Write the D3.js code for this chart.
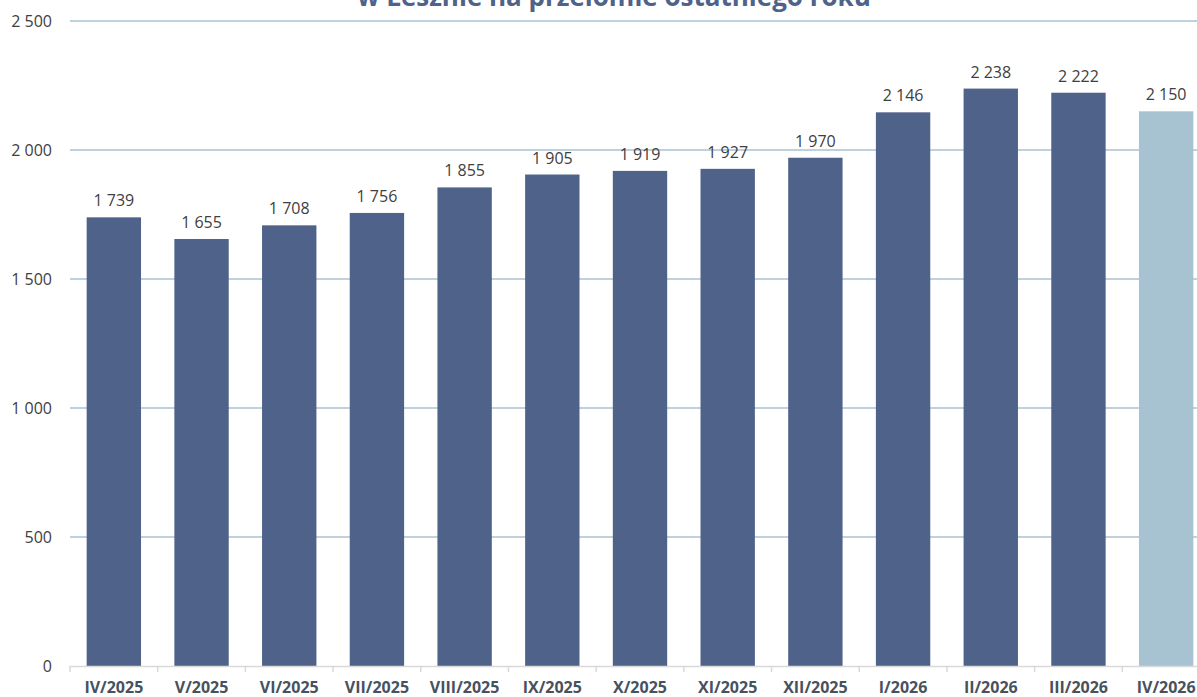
<!DOCTYPE html>
<html><head><meta charset="utf-8">
<script src="https://cdn.jsdelivr.net/npm/d3@7"></script>
<style>body{margin:0;background:#fff;overflow:hidden}svg{display:block;font-family:"Open Sans",sans-serif}</style>
</head><body>
<script>
const categories = ["IV/2025","V/2025","VI/2025","VII/2025","VIII/2025","IX/2025","X/2025","XI/2025","XII/2025","I/2026","II/2026","III/2026","IV/2026"];
const values = [1739,1655,1708,1756,1855,1905,1919,1927,1970,2146,2238,2222,2150];
const yTicks = [0,500,1000,1500,2000,2500];
const titleText = "w Lesznie na przełomie ostatniego roku";

const W = 1197, H = 697;
const svg = d3.select("body").append("svg").attr("width", W).attr("height", H);
const x = d3.scaleBand().domain(categories).range([70, 1210]).paddingInner(0.38).paddingOuter(0.19);
const y = d3.scaleLinear().domain([0,2500]).range([666, 21]);
const fmt = v => d3.format(",")(v).replace(/,/g, " ");

// gridlines
svg.append("g").selectAll("line").data(yTicks.filter(d => d > 0)).join("line")
  .attr("x1", 70).attr("x2", W).attr("y1", d => y(d)).attr("y2", d => y(d))
  .attr("stroke", "#a9c3d3").attr("stroke-width", 1.5);

// y labels
const ya = svg.append("g").attr("transform", "translate(52,0)")
  .call(d3.axisLeft(y).tickValues(yTicks).tickSize(0).tickPadding(0).tickFormat(fmt));
ya.select(".domain").remove();
ya.selectAll("text").attr("font-size", 16).attr("fill", "#404040").attr("font-family", "Open Sans");

// bars
svg.append("g").selectAll("rect").data(values).join("rect")
  .attr("x", (d,i) => x(categories[i])).attr("width", x.bandwidth())
  .attr("y", d => y(d)).attr("height", d => y(0) - y(d))
  .attr("fill", (d,i) => i === values.length - 1 ? "#a7c3d1" : "#4f6289");

// value labels
svg.append("g").selectAll("text").data(values).join("text")
  .attr("x", (d,i) => x(categories[i]) + x.bandwidth()/2).attr("y", d => y(d) - 11)
  .attr("text-anchor", "middle").attr("font-size", 16).attr("fill", "#404040")
  .text(fmt);

// x axis
const xa = svg.append("g").attr("transform", `translate(0,${y(0)})`)
  .call(d3.axisBottom(x).tickSize(0).tickPadding(0));
xa.select(".domain").attr("stroke", "#d9d9d9").attr("stroke-width", 1.5);
xa.selectAll("text").attr("dy", null).attr("y", 27).attr("font-size", 16).attr("font-weight", "bold")
  .attr("fill", "#46525e").attr("font-family", "Open Sans");
// boundary ticks
const step = x.step();
const bounds = d3.range(categories.length + 1).map(i => 70 + i * step);
svg.append("g").selectAll("line").data(bounds).join("line")
  .attr("x1", d => d).attr("x2", d => d).attr("y1", y(0)).attr("y2", y(0) + 6)
  .attr("stroke", "#d9d9d9").attr("stroke-width", 1.5);

// title (partially cut off at the top, as in the reference)
svg.append("text").attr("x", 614).attr("y", 6).attr("text-anchor", "middle")
  .attr("font-size", 26).attr("font-weight", "bold").attr("fill", "#4f6289").text(titleText);
</script>
</body></html>
